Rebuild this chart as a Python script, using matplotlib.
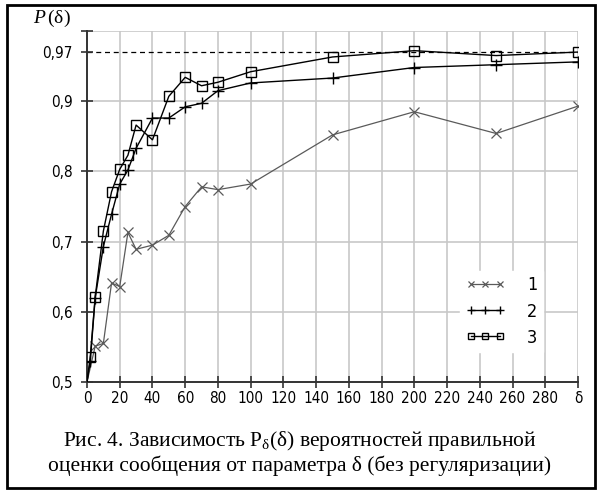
import matplotlib
matplotlib.use("Agg")
import matplotlib.pyplot as plt
from matplotlib.patches import Rectangle

plt.rcParams['mathtext.fontset'] = 'custom'
plt.rcParams['mathtext.rm'] = 'Liberation Serif'
plt.rcParams['mathtext.it'] = 'Liberation Serif:italic'

# data
delta1 = [0, 5, 10, 15, 20, 25, 30, 40, 50, 60, 70, 80, 100, 150, 200, 250, 300]
p1 = [0.5, 0.551, 0.555, 0.641, 0.636, 0.713, 0.689, 0.695, 0.709, 0.750, 0.778, 0.774, 0.782, 0.852, 0.885, 0.854, 0.893]
delta23 = [0, 2, 5, 10, 15, 20, 25, 30, 40, 50, 60, 70, 80, 100, 150, 200, 250, 300]
p2 = [0.5, 0.53, 0.62, 0.693, 0.739, 0.782, 0.802, 0.833, 0.876, 0.876, 0.892, 0.897, 0.915, 0.926, 0.933, 0.948, 0.952, 0.956]
p3 = [0.5, 0.536, 0.621, 0.715, 0.771, 0.803, 0.823, 0.866, 0.845, 0.907, 0.934, 0.922, 0.927, 0.942, 0.963, 0.972, 0.965, 0.970]
series_labels = ['1', '2', '3']
xticks = list(range(0, 301, 20))
xticklabels = [str(v) for v in range(0, 281, 20)] + ['δ']
yticks = [0.5, 0.6, 0.7, 0.8, 0.9, 0.97, 1.0]
yticklabels = ['0,5', '0,6', '0,7', '0,8', '0,9', '0,97', '']
ref_level = 0.97
caption_line1 = "Рис. 4. Зависимость P$_{\\mathrm{δ}}$(δ) вероятностей правильной"
caption_line2 = "оценки сообщения от параметра δ (без регуляризации)"

fig = plt.figure(figsize=(6, 4.92), dpi=100)
fig.patches.append(Rectangle((7/600, 1-488/492), 588/600, 483/492, transform=fig.transFigure,
                             fill=False, edgecolor='black', linewidth=2))

ax = fig.add_axes([87/600, 1-382/492, (578-87)/600, (382-31)/492])
ax.set_xlim(0, 300)
ax.set_ylim(0.5, 1.0)

gridc = '#c8c8c8'
for xv in range(20, 301, 20):
    ax.axvline(xv, color=gridc, lw=1.2, zorder=0)
for yv in [0.6, 0.7, 0.8, 0.9, 1.0]:
    ax.axhline(yv, color=gridc, lw=1.2, zorder=0)
ax.axhline(ref_level, color='black', lw=0.9, ls=(0, (4, 3)), zorder=1)

ax.plot(delta1, p1, color='#5a5a5a', lw=0.9, marker='x', ms=7, mew=0.9, markevery=slice(1, None), label=series_labels[0], zorder=3)
ax.plot(delta23, p2, color='black', lw=1.0, marker='+', ms=9, mew=1.0, markevery=slice(1, None), label=series_labels[1], zorder=3)
ax.plot(delta23, p3, color='black', lw=1.0, marker='s', ms=7, mew=1.0, mfc='none', markevery=slice(1, None), label=series_labels[2], zorder=4)

for s in ['top', 'right']:
    ax.spines[s].set_visible(False)
for s in ['left', 'bottom']:
    ax.spines[s].set_color('#333333')
    ax.spines[s].set_linewidth(1.4)

tickfont = dict(family='DejaVu Sans', stretch='condensed', size=11)
ax.set_xticks(xticks)
ax.set_xticklabels(xticklabels, fontdict=tickfont)
ax.set_yticks(yticks)
ax.set_yticklabels(yticklabels, fontdict=tickfont)
ax.tick_params(direction='inout', length=9, width=1.2, color='#333333', pad=2)
ax.tick_params(axis='y', pad=6)

ax.text(-54/491*300, 1.003, '$\\mathit{P}\\,$(δ)', fontsize=14,
        family=['Liberation Serif', 'DejaVu Serif'], ha='left', va='bottom')

leg = ax.legend(loc='upper left', bbox_to_anchor=(364/491, 1-(262-31)/351), frameon=True, fancybox=False,
                edgecolor='white', facecolor='white', framealpha=1.0, numpoints=3, handlelength=2.2,
                markerscale=0.7, prop={'family': 'DejaVu Sans', 'stretch': 'condensed', 'size': 13},
                borderpad=0.3, labelspacing=0.45, handletextpad=1.2)

fig.text(0.5, 1-441/492, caption_line1, ha='center', va='center', fontsize=15.5,
         family=['Liberation Serif', 'DejaVu Serif'])
fig.text(0.5, 1-466/492, caption_line2, ha='center', va='center', fontsize=15.5,
         family=['Liberation Serif', 'DejaVu Serif'], stretch='expanded')

fig.savefig('out.png', dpi=100)
